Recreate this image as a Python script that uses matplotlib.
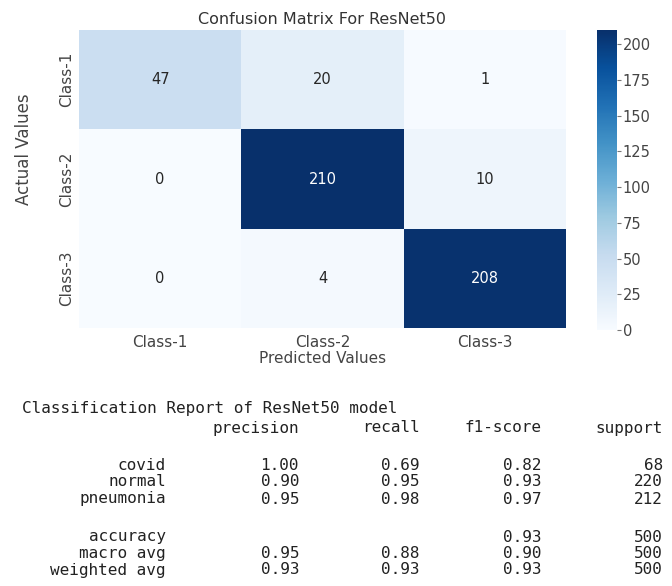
import numpy as np
import matplotlib
matplotlib.use("Agg")
import matplotlib.pyplot as plt
import seaborn as sns

classes = ["Class-1", "Class-2", "Class-3"]
cm = np.array([[47, 20, 1],
               [0, 210, 10],
               [0, 4, 208]])

report_title = "Classification Report of ResNet50 model"
report_rows = ["covid", "normal", "pneumonia"]
precision = [1.00, 0.90, 0.95]
recall = [0.69, 0.95, 0.98]
f1 = [0.82, 0.93, 0.97]
support = [68, 220, 212]

avg_rows = ["accuracy", "macro avg", "weighted avg"]
avg_precision = [None, 0.95, 0.93]
avg_recall = [None, 0.88, 0.93]
avg_f1 = [0.93, 0.90, 0.93]
avg_support = [500, 500, 500]

W, H = 672, 586
narrow = ["Liberation Sans Narrow", "DejaVu Sans"]


def px(x, y):
    return x / W, 1 - y / H


def main():
    fig = plt.figure(figsize=(W / 100, H / 100), dpi=100)
    ax = fig.add_axes([79 / W, 1 - 328 / H, (566 - 79) / W, (328 - 30) / H])
    cax = fig.add_axes([597 / W, 1 - 330 / H, 20 / W, 300 / H])

    sns.heatmap(cm, annot=True, fmt="d", cmap="Blues", ax=ax, cbar_ax=cax,
                annot_kws={"fontsize": 10.5},
                xticklabels=classes, yticklabels=classes)

    ax.set_title("Confusion Matrix For ResNet50", fontsize=11.5,
                 color="#333333", pad=4)
    ax.set_xlabel("Predicted Values", fontsize=11, color="#444444", labelpad=1)
    ax.set_ylabel("Actual Values", fontsize=12, color="#444444",
                  family=narrow, labelpad=4)
    ax.yaxis.set_label_coords(-0.095, 0.6)
    ax.tick_params(axis="both", length=0, labelcolor="#444444")
    ax.tick_params(axis="x", pad=5)
    for t in ax.get_xticklabels():
        t.set_fontsize(11)
    for t in ax.get_yticklabels():
        t.set_fontsize(11)
        t.set_family(narrow)
        t.set_rotation(90)
        t.set_va("center")

    cax.tick_params(labelsize=10.5, labelcolor="#444444", color="#777777",
                    length=3, pad=1)
    cax.set_yticks(np.arange(0, 201, 25))

    # classification report, laid out column by column in monospace
    mono = dict(family="DejaVu Sans Mono", fontsize=11.5, color="#222222",
                va="center")
    fig.text(*px(22, 409), report_title, ha="left", **mono)

    cols = [299, 420, 542, 663]
    for x, h in zip(cols, ["precision", "recall", "f1-score", "support"]):
        fig.text(*px(x, 428), h, ha="right", **mono)

    for i, name in enumerate(report_rows):
        y = 465 + i * 17
        fig.text(*px(166, y), name, ha="right", **mono)
        vals = [f"{precision[i]:.2f}", f"{recall[i]:.2f}", f"{f1[i]:.2f}",
                f"{support[i]}"]
        for x, v in zip(cols, vals):
            fig.text(*px(x, y), v, ha="right", **mono)

    for i, name in enumerate(avg_rows):
        y = 537 + i * 16.5
        fig.text(*px(166, y), name, ha="right", **mono)
        vals = [avg_precision[i], avg_recall[i], avg_f1[i]]
        for x, v in zip(cols[:3], vals):
            if v is not None:
                fig.text(*px(x, y), f"{v:.2f}", ha="right", **mono)
        fig.text(*px(cols[3], y), f"{avg_support[i]}", ha="right", **mono)

    fig.savefig("out.png", dpi=100)


if __name__ == "__main__":
    main()
